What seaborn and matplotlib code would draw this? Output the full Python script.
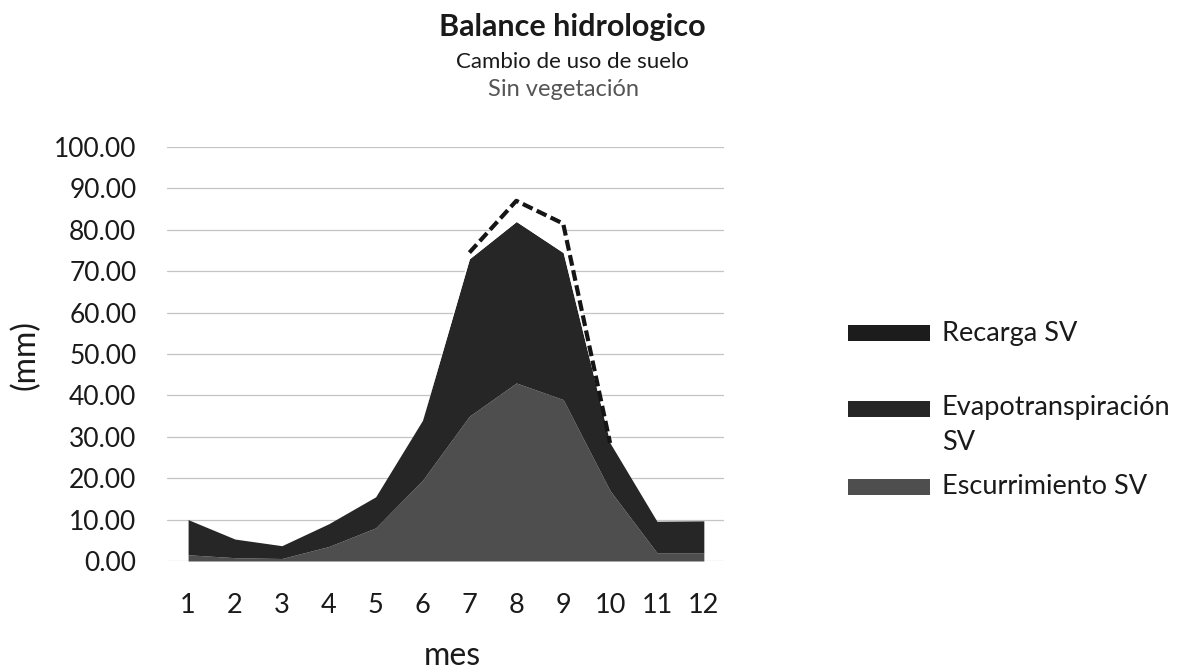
import numpy as np
import pandas as pd
import matplotlib
matplotlib.use("Agg")
import matplotlib.pyplot as plt
import seaborn as sns
from matplotlib.patches import Rectangle

# ---------------- data ----------------
meses = [1, 2, 3, 4, 5, 6, 7, 8, 9, 10, 11, 12]
escurrimiento_sv = [1.5, 0.8, 0.6, 3.5, 8.0, 19.5, 35.0, 43.0, 39.0, 17.0, 2.0, 2.0]
evapotranspiracion_sv = [8.5, 4.5, 3.1, 5.5, 7.5, 14.5, 38.0, 39.0, 35.5, 11.5, 7.6, 7.7]
recarga_sv = [0.0, 0.0, 0.0, 0.0, 0.0, 0.0, 1.5, 5.0, 7.0, 0.0, 0.0, 0.0]
y_ticks = [0, 10, 20, 30, 40, 50, 60, 70, 80, 90, 100]
legend_labels = ["Recarga SV", "Evapotranspiración", "SV", "Escurrimiento SV"]

df = pd.DataFrame({
    "mes": meses,
    "esc": escurrimiento_sv,
    "evt": evapotranspiracion_sv,
    "rec": recarga_sv,
})
df["nivel1"] = df["esc"]
df["nivel2"] = df["esc"] + df["evt"]
df["nivel3"] = df["nivel2"] + df["rec"]

sns.set_theme(style="white")
plt.rcParams["font.family"] = ["Lato", "DejaVu Sans"]

W, H = 1180, 669
fig = plt.figure(figsize=(W / 100, H / 100), dpi=100)
fig.patch.set_facecolor("white")

def fx(px):
    return px / W

def fy(py):
    return 1 - py / H

ax = fig.add_axes([fx(167), fy(561), fx(724) - fx(167), fy(147) - fy(561)])

c_esc = "#4e4e4e"
c_evt = "#262626"
c_rec = "#1c1c1c"

ax.fill_between(df["mes"], 0, df["nivel1"], color=c_esc, lw=0, zorder=2)
ax.fill_between(df["mes"], df["nivel1"], df["nivel2"], color=c_evt, lw=0, zorder=2)
ax.fill_between(df["mes"], df["nivel2"], df["nivel3"], color="white", lw=0, zorder=2)

# dashed outline of the Recarga series where it sits above the other areas
rec_pos = df["rec"] > 0
visible = rec_pos | rec_pos.shift(1, fill_value=False)
sns.lineplot(data=df[visible], x="mes", y="nivel3", ax=ax, color="#151515", lw=3.0,
             linestyle=(0, (2.6, 1.1)), zorder=3)

ax.set_xlim(0.55, 12.43)
ax.set_ylim(0, 100)
ax.set_yticks(y_ticks)
ax.set_yticklabels([f"{v:.2f}" for v in y_ticks])
ax.set_xticks(meses)
ax.set_xticklabels([str(m) for m in meses])
ax.yaxis.grid(True, color="#c4c4c4", lw=0.9)
ax.xaxis.grid(False)
ax.set_axisbelow(True)
for s in ax.spines.values():
    s.set_visible(False)
ax.tick_params(axis="y", length=0, pad=22, labelsize=19, colors="#1a1a1a")
ax.tick_params(axis="x", length=0, pad=23, labelsize=19.5, colors="#1a1a1a")
ax.set_xlabel("")
ax.set_ylabel("")

fig.text(fx(25), fy(355), "(mm)", rotation=90, ha="center", va="center",
         fontsize=23, color="#1a1a1a")
fig.text(fx(452), fy(656), "mes", ha="center", va="center",
         fontsize=23, color="#1a1a1a")

# titles
fig.text(fx(572), fy(27), "Balance hidrologico", ha="center", va="center",
         fontsize=22, fontweight="bold", color="#1a1a1a")
fig.text(fx(572), fy(62), "Cambio de uso de suelo", ha="center", va="center",
         fontsize=16, color="#1a1a1a")
fig.text(fx(564), fy(89), "Sin vegetación", ha="center", va="center",
         fontsize=17, color="#555555")

# legend (manual, Excel style)
sw = [(325, c_rec), (401, c_evt), (479, c_esc)]
for top, col in sw:
    fig.add_artist(Rectangle((fx(848), fy(top + 16)), fx(930) - fx(848), 16 / H,
                             transform=fig.transFigure, color=col, lw=0))
txt_pos = [333, 408, 443, 487]
for lab, py in zip(legend_labels, txt_pos):
    fig.text(fx(942), fy(py), lab, ha="left", va="center", fontsize=19.5, color="#1a1a1a")

fig.savefig("out.png", dpi=100, facecolor="white")
